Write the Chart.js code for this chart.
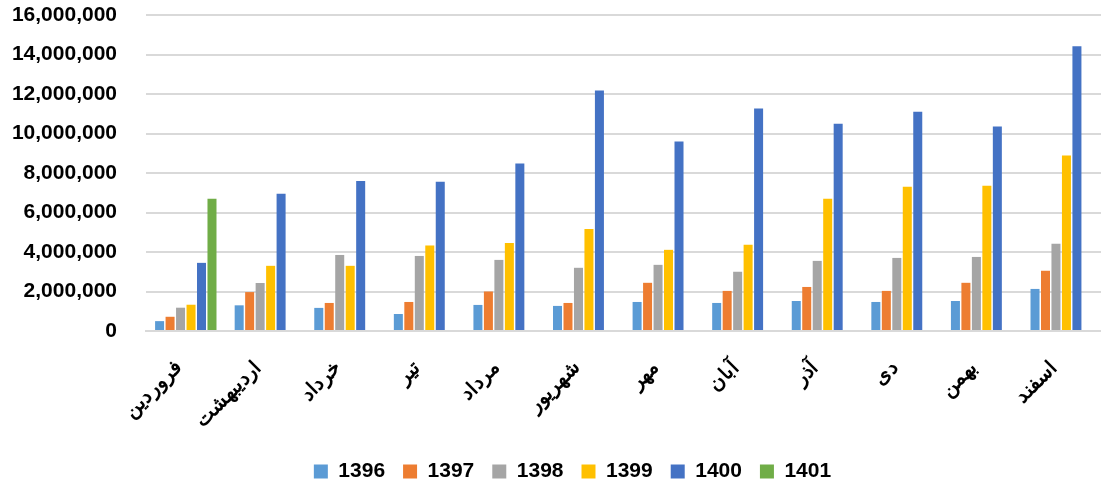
<!DOCTYPE html>
<html>
<head>
<meta charset="utf-8">
<script src="https://cdn.jsdelivr.net/npm/chart.js@4.4.0/dist/chart.umd.min.js"></script>
<style>
  html, body { margin: 0; padding: 0; background: #fff; }
  #wrap { width: 1101px; height: 486px; }
</style>
</head>
<body>
<div id="wrap"><canvas id="salesChart" width="1101" height="486"></canvas></div>
<script>
const months = ['فروردین', 'اردیبهشت', 'خرداد', 'تیر', 'مرداد', 'شهریور', 'مهر', 'آبان', 'آذر', 'دی', 'بهمن', 'اسفند'];

const y1396 = [500000, 1300000, 1170000, 860000, 1320000, 1270000, 1470000, 1420000, 1520000, 1470000, 1520000, 2130000];
const y1397 = [720000, 1970000, 1420000, 1470000, 2000000, 1420000, 2440000, 2030000, 2230000, 2030000, 2440000, 3050000];
const y1398 = [1180000, 2430000, 3850000, 3800000, 3600000, 3200000, 3350000, 3000000, 3550000, 3700000, 3750000, 4420000];
const y1399 = [1330000, 3300000, 3300000, 4330000, 4450000, 5170000, 4110000, 4370000, 6700000, 7300000, 7360000, 8880000];
const y1400 = [3450000, 6950000, 7600000, 7560000, 8480000, 12180000, 9600000, 11270000, 10500000, 11100000, 10350000, 14420000];
const y1401 = [6700000, null, null, null, null, null, null, null, null, null, null, null];

const yTicks = [0, 2000000, 4000000, 6000000, 8000000, 10000000, 12000000, 14000000, 16000000];

const fontFamily = '"Liberation Sans", Arial, sans-serif';

// legend in the original sits a bit right of centre and a bit lower
const nudgeLegend = {
    id: 'nudgeLegend',
    afterLayout(chart) {
        chart.legend.left += 36;
        chart.legend.top += 6;
    },
};

const ctx = document.getElementById('salesChart').getContext('2d');
const salesChart = new Chart(ctx, {
    type: 'bar',
    data: {
        labels: months,
        datasets: [
            { label: '1396', data: y1396, backgroundColor: '#5B9BD5' },
            { label: '1397', data: y1397, backgroundColor: '#ED7D31' },
            { label: '1398', data: y1398, backgroundColor: '#A5A5A5' },
            { label: '1399', data: y1399, backgroundColor: '#FFC000' },
            { label: '1400', data: y1400, backgroundColor: '#4472C4' },
            { label: '1401', data: y1401, backgroundColor: '#70AD47' },
        ],
    },
    options: {
        responsive: false,
        animation: false,
        layout: {
            padding: { top: 15, right: 0, left: 8, bottom: 0 },
        },
        datasets: {
            bar: {
                categoryPercentage: 0.79,
                barPercentage: 0.86,
            },
        },
        scales: {
            x: {
                grid: { display: false },
                border: { color: '#D9D9D9', width: 2 },
                afterFit: function (axis) {
                    axis.height = 106; // room for the slanted month names
                    axis.paddingLeft = 0;
                    axis.paddingRight = 0;
                },
                ticks: {
                    color: '#000',
                    padding: 17,
                    labelOffset: -7,
                    maxRotation: 45,
                    minRotation: 45,
                    font: { family: fontFamily, size: 20, weight: 'bold' },
                },
            },
            y: {
                min: 0,
                max: 16000000,
                afterBuildTicks: function (axis) {
                    axis.ticks = yTicks.map(v => ({ value: v }));
                },
                afterFit: function (axis) {
                    axis.width = 138;
                    axis.paddingTop = 0;
                    axis.paddingBottom = 0;
                },
                grid: { color: '#D9D9D9', lineWidth: 2, drawTicks: false },
                border: { display: false },
                ticks: {
                    color: '#000',
                    padding: 29,
                    font: { family: fontFamily, size: 21, weight: 'bold' },
                    callback: function (value) {
                        return value.toLocaleString('en-US');
                    },
                },
            },
        },
        plugins: {
            legend: {
                position: 'bottom',
                labels: {
                    color: '#000',
                    boxWidth: 14,
                    boxHeight: 14,
                    padding: 18,
                    font: { family: fontFamily, size: 21, weight: 'bold' },
                },
            },
            tooltip: { enabled: false },
        },
    },
    plugins: [nudgeLegend],
});
</script>
</body>
</html>
